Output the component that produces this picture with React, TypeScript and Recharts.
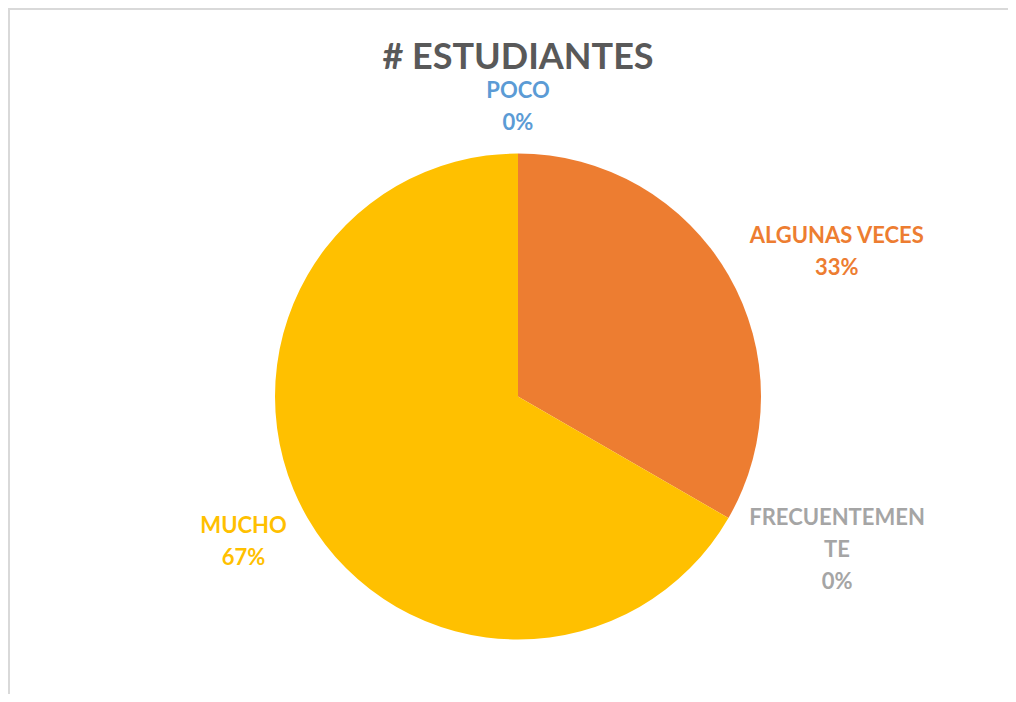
import { PieChart, Pie, Cell } from 'recharts'

const categories = ['POCO', 'ALGUNAS VECES', 'FRECUENTEMENTE', 'MUCHO']
const students = [0, 1, 0, 2]
const colors = ['#5B9BD5', '#ED7D31', '#A5A5A5', '#FFC000']

const title = '# ESTUDIANTES'

const FONT = 'Lato, "Open Sans", sans-serif'
const LABEL_SIZE = 22
const LINE_H = 32
const CAP_H = 15
const GAP = 24

const data = categories.map((name, i) => ({ name, value: students[i] }))

let ctx: CanvasRenderingContext2D | null = null
function textWidth(s: string) {
  if (!ctx) ctx = document.createElement('canvas').getContext('2d')
  if (!ctx) return s.length * LABEL_SIZE * 0.6
  ctx.font = `bold ${LABEL_SIZE}px Lato`
  return ctx.measureText(s).width
}

// Excel-like wrap of long category names
function wrap(name: string) {
  const lines: string[] = []
  let cur = ''
  for (const w of name.split(' ')) {
    const cand = cur ? cur + ' ' + w : w
    if (cand.length <= 13) cur = cand
    else {
      if (cur) lines.push(cur)
      cur = w
    }
    while (cur.length > 13) {
      lines.push(cur.slice(0, 12))
      cur = cur.slice(12)
    }
  }
  if (cur) lines.push(cur)
  return lines
}

const RAD = Math.PI / 180

function renderLabel(props: any) {
  const { cx, cy, midAngle, outerRadius, percent, name, index } = props
  const lines = [...wrap(name), `${Math.round(percent * 100)}%`]
  const w = Math.max(...lines.map(textWidth))
  const h = (lines.length - 1) * LINE_H + CAP_H
  const cos = Math.cos(-midAngle * RAD)
  const sin = Math.sin(-midAngle * RAD)
  const r = outerRadius + GAP
  let x = cx + r * cos
  if (cos > 0.3) x += w / 2
  else if (cos < -0.3) x -= w / 2
  const yc = cy + r * sin + (h / 2) * sin
  const top = yc - h / 2 + CAP_H
  return (
    <text
      key={`l-${index}`}
      x={x}
      y={top}
      textAnchor="middle"
      fill={colors[index]}
      fontFamily={FONT}
      fontWeight="bold"
      fontSize={LABEL_SIZE}
    >
      {lines.map((ln, i) => (
        <tspan key={i} x={x} y={top + i * LINE_H}>
          {ln}
        </tspan>
      ))}
    </text>
  )
}

export default function App() {
  return (
    <div
      style={{
        position: 'relative',
        width: 1000,
        height: 686,
        boxSizing: 'border-box',
        borderTop: '2px solid #D9D9D9',
        borderLeft: '2px solid #D9D9D9',
        background: '#fff',
      }}
    >
      <div
        style={{
          position: 'absolute',
          left: 0,
          top: 23,
          width: 1016,
          textAlign: 'center',
          fontFamily: FONT,
          fontWeight: 'bold',
          fontSize: 36,
          color: '#595959',
        }}
      >
        {title}
      </div>
      <PieChart width={998} height={684} style={{ position: 'absolute', left: 0, top: 0 }}>
        <Pie
          data={data}
          dataKey="value"
          nameKey="name"
          cx={503}
          cy={381.5}
          outerRadius={243}
          startAngle={90}
          endAngle={-270}
          stroke="none"
          label={renderLabel}
          labelLine={false}
          isAnimationActive={false}
        >
          {data.map((d, i) => (
            <Cell key={d.name} fill={colors[i]} />
          ))}
        </Pie>
      </PieChart>
    </div>
  )
}
